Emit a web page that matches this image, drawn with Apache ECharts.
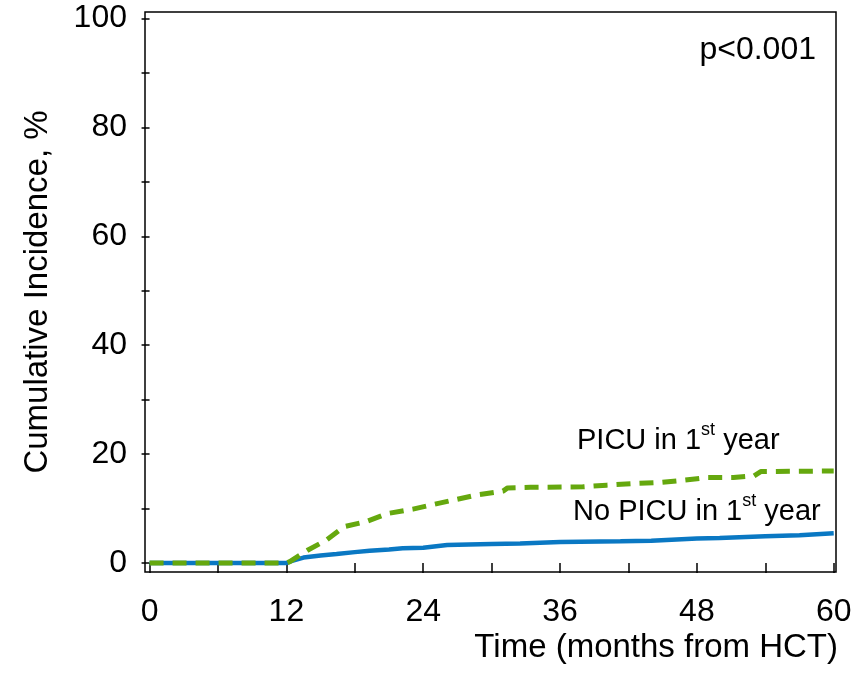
<!DOCTYPE html>
<html>
<head>
<meta charset="utf-8">
<script src="https://cdn.jsdelivr.net/npm/echarts@6/dist/echarts.min.js"></script>
<style>
html,body{margin:0;padding:0;background:#fff;}
#chart{width:859px;height:675px;}
</style>
</head>
<body>
<div id="chart"></div>
<script>
// Data
const noPicuMonths = [0, 12, 12.5, 13.5, 15, 16.4, 18, 19.3, 21, 22.2, 24, 26.1, 28, 30, 32.5, 36, 41.3, 44, 48, 50, 54, 57, 60];
const noPicuValues = [0, 0, 0.4, 1.0, 1.4, 1.65, 2.0, 2.25, 2.5, 2.7, 2.8, 3.3, 3.4, 3.5, 3.6, 3.85, 4.0, 4.1, 4.5, 4.6, 4.9, 5.1, 5.45];
const picuMonths = [0, 12, 12.3, 13.9, 15.5, 17.1, 19.0, 20.9, 23.1, 25.0, 28.7, 31.0, 31.4, 33.4, 38, 40.1, 42.5, 44.8, 46.8, 48.9, 51.2, 53, 53.6, 60];
const picuValues = [0, 0, 0.25, 2.4, 4.2, 6.7, 7.6, 9.1, 9.9, 10.8, 12.5, 13.2, 13.8, 13.9, 14.0, 14.3, 14.6, 14.8, 15.2, 15.7, 15.7, 16.0, 16.8, 16.9];
const xTickValues = [0, 6, 12, 18, 24, 30, 36, 42, 48, 54, 60];
const xLabelValues = [0, 12, 24, 36, 48, 60];
const yTickValues = [0, 10, 20, 30, 40, 50, 60, 70, 80, 90, 100];
const yLabelValues = [0, 20, 40, 60, 80, 100];
const seriesNames = ['No PICU in 1st year', 'PICU in 1st year'];
const xAxisTitle = 'Time (months from HCT)';
const yAxisTitle = 'Cumulative Incidence, %';

const FONT = '"Liberation Sans", Arial, sans-serif';
const pair = (xs, ys) => xs.map((x, i) => [x, ys[i]]);
const richSup = {
  a: {fontSize: 29, fontFamily: FONT, lineHeight: 34, verticalAlign: 'bottom', fill: '#000'},
  s: {fontSize: 18, fontFamily: FONT, lineHeight: 34, verticalAlign: 'top', padding: [0, 0, 14, 0], fill: '#000'}
};

const chart = echarts.init(document.getElementById('chart'), null, {renderer: 'canvas'});
chart.setOption({
  animation: false,
  backgroundColor: '#ffffff',
  textStyle: {fontFamily: FONT, color: '#000'},
  grid: {left: 145, right: 23, top: 12, bottom: 103, containLabel: false, outerBoundsMode: 'none',
         show: true, borderColor: '#000', borderWidth: 1.5, backgroundColor: 'transparent'},
  xAxis: {
    type: 'value', min: -0.4, max: 60.2,
    axisLine: {show: false},
    axisTick: {show: true, inside: false, length: 10, customValues: xTickValues, lineStyle: {color: '#000', width: 1.5}},
    axisLabel: {customValues: xLabelValues, fontFamily: FONT, fontSize: 32, color: '#000', margin: 24},
    splitLine: {show: false}
  },
  yAxis: {
    type: 'value', min: -1.65, max: 101.2,
    name: yAxisTitle, nameLocation: 'middle', nameGap: 91, nameRotate: 90,
    nameTextStyle: {fontFamily: FONT, fontSize: 33, color: '#000'},
    axisLine: {show: false},
    axisTick: {show: true, inside: false, length: 8, customValues: yTickValues, lineStyle: {color: '#000', width: 1.5}},
    axisLabel: {customValues: yLabelValues, fontFamily: FONT, fontSize: 32, color: '#000', margin: 18},
    splitLine: {show: false}
  },
  series: [
    {
      name: seriesNames[0], type: 'line', data: pair(noPicuMonths, noPicuValues),
      showSymbol: false, smooth: false,
      lineStyle: {color: '#0a78c3', width: 4.5},
      z: 2
    },
    {
      name: seriesNames[1], type: 'line', data: pair(picuMonths, picuValues),
      showSymbol: false, smooth: false,
      lineStyle: {color: '#65a80e', width: 5, type: [14, 9]},
      z: 3
    }
  ],
  graphic: [
    {type: 'text', right: 21, top: 631, style: {text: xAxisTitle, font: '33px ' + FONT, fill: '#000'}},
    {type: 'text', right: 43, top: 34, style: {text: 'p<0.001', font: '32px ' + FONT, fill: '#000'}},
    {type: 'text', left: 577, top: 421, style: {text: '{a|PICU in 1}{s|st}{a| year}', rich: richSup}},
    {type: 'text', left: 573, top: 492, style: {text: '{a|No PICU in 1}{s|st}{a| year}', rich: richSup}}
  ]
});
</script>
</body>
</html>
